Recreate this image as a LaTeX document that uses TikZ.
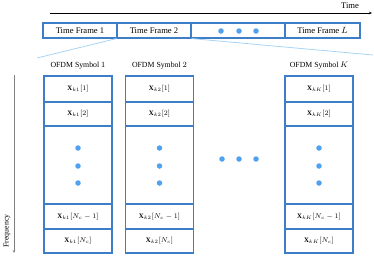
\documentclass[tikz,border=0pt]{standalone}
\usepackage{fontspec}
\setmainfont{Liberation Serif}
\usetikzlibrary{arrows.meta}
\definecolor{boxblue}{RGB}{62,125,200}
\definecolor{dotblue}{RGB}{80,162,240}
\definecolor{lightblue}{RGB}{168,212,245}
\tikzset{
  cellbox/.style={draw=boxblue, line width=1.1pt, fill=white, inner sep=0pt, minimum width=68pt, font=\fontsize{6.8}{7}\selectfont},
  framebox/.style={draw=boxblue, line width=1.1pt, inner sep=0pt, minimum height=15pt, font=\fontsize{8.6}{10}\selectfont},
  bluedot/.style={circle, fill=dotblue, inner sep=0pt, minimum size=5.5pt},
  symlabel/.style={font=\fontsize{7.8}{9}\selectfont, inner sep=0pt},
  zoomline/.style={draw=lightblue, line width=0.8pt},
}
\begin{document}
\begin{tikzpicture}[x=1pt,y=-1pt]
\useasboundingbox (0,0) rectangle (374,271);
% time axis
\coordinate (ts) at (50,13);
\coordinate (te) at (372,13);
\draw[-{Stealth[length=3pt,width=2.5pt]}, line width=0.5pt] (ts) -- (te);
\node[font=\fontsize{8.6}{10}\selectfont, inner sep=0pt] (time) at (350,5.5) {Time};
% zoom lines
\coordinate (zl) at (37,58);
\coordinate (zr) at (373,55);
% time frames
\node[framebox, minimum width=74pt] (tf1) at (80,30.5) {Time Frame 1};
\node[framebox, minimum width=74pt] (tf2) at (154,30.5) {Time Frame 2};
\node[framebox, minimum width=94pt] (tfd) at (238,30.5) {};
\node[framebox, minimum width=75pt] (tfL) at (322.5,30.5) {Time Frame $L$};
\node[bluedot] (td1) at (221,31) {};
\node[bluedot] (td2) at (239,31) {};
\node[bluedot] (td3) at (256,31) {};
\draw[zoomline] (tf2.south west) -- (zl);
\draw[zoomline] (tf2.south east) -- (zr);
% frequency axis
\coordinate (fs) at (14,75);
\coordinate (fe) at (14,253);
\draw[-{Stealth[length=3pt,width=2.5pt]}, draw=gray, line width=0.9pt] (fs) -- (fe);
\node[rotate=90, font=\fontsize{7.8}{9}\selectfont, inner sep=0pt] (freq) at (7,231) {Frequency};
% columns
\foreach \cx/\sub/\lab in {78/1/1, 159.5/2/2, 319/K/K}{
  \node[symlabel] (lab\sub) at (\cx,66) {OFDM Symbol $\lab$};
  \node[cellbox, minimum height=26pt] (c\sub a) at (\cx,89) {$\mathbf{X}_{k\lab}[1]$};
  \node[cellbox, minimum height=24pt] (c\sub b) at (\cx,114) {$\mathbf{X}_{k\lab}[2]$};
  \node[cellbox, minimum height=78pt] (c\sub c) at (\cx,165) {};
  \node[cellbox, minimum height=25pt] (c\sub d) at (\cx,216.5) {$\mathbf{X}_{k\lab}[N_c-1]$};
  \node[cellbox, minimum height=24pt] (c\sub e) at (\cx,241) {$\mathbf{X}_{k\lab}[N_c]$};
  \node[bluedot] (c\sub d1) at (\cx,148) {};
  \node[bluedot] (c\sub d2) at (\cx,166) {};
  \node[bluedot] (c\sub d3) at (\cx,183) {};
}
\node[bluedot] (hd1) at (222,159) {};
\node[bluedot] (hd2) at (239,159) {};
\node[bluedot] (hd3) at (256,159) {};
\end{tikzpicture}
\end{document}
